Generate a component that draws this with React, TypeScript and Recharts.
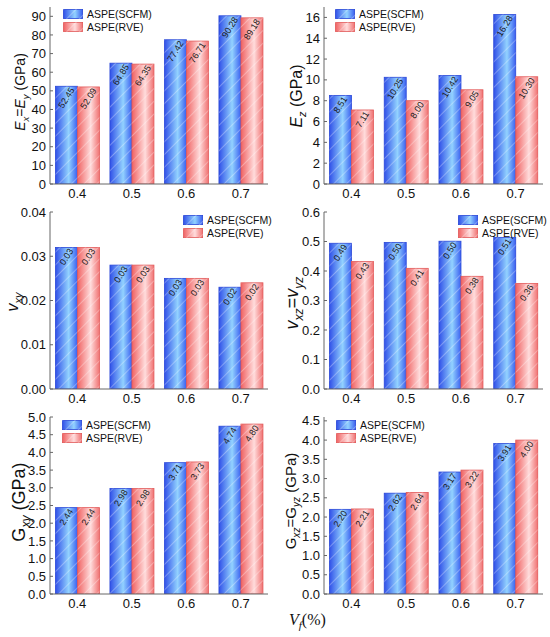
import React from 'react';
import { BarChart, Bar, XAxis, YAxis, Legend, LabelList } from 'recharts';

const categories = ['0.4', '0.5', '0.6', '0.7'];
const seriesNames = ['ASPE(SCFM)', 'ASPE(RVE)'];

const exScfm = [52.45, 64.85, 77.42, 90.28];
const exRve = [52.09, 64.35, 76.71, 89.18];
const ezScfm = [8.51, 10.25, 10.42, 16.28];
const ezRve = [7.11, 8.0, 9.05, 10.3];
const vxyScfm = [0.032, 0.028, 0.025, 0.023];
const vxyRve = [0.032, 0.028, 0.025, 0.024];
const vxzScfm = [0.494, 0.497, 0.501, 0.514];
const vxzRve = [0.432, 0.409, 0.382, 0.358];
const gxyScfm = [2.44, 2.98, 3.71, 4.74];
const gxyRve = [2.44, 2.98, 3.73, 4.8];
const gxzScfm = [2.2, 2.62, 3.17, 3.91];
const gxzRve = [2.21, 2.64, 3.22, 4.0];

const exTicks = [0, 10, 20, 30, 40, 50, 60, 70, 80, 90];
const ezTicks = [0, 2, 4, 6, 8, 10, 12, 14, 16];
const vxyTicks = [0, 0.01, 0.02, 0.03, 0.04];
const vxzTicks = [0, 0.1, 0.2, 0.3, 0.4, 0.5, 0.6];
const gxyTicks = [0, 0.5, 1, 1.5, 2, 2.5, 3, 3.5, 4, 4.5, 5];
const gxzTicks = [0, 0.5, 1, 1.5, 2, 2.5, 3, 3.5, 4, 4.5];

const FONT = '"Liberation Sans", Arial, sans-serif';
const AXIS = '#666';

type Seg = { t: string; i?: boolean; s?: boolean };

const fmt1 = (v: number) => v.toFixed(1);
const fmt2 = (v: number) => v.toFixed(2);
const fmt0 = (v: number) => String(v);

// rotated value label sitting just under the top of each bar
const barLabel = (props: any) => {
  const { x, y, width, value } = props;
  const txt = fmt2(Number(value));
  const len = txt.replace('.', '').length * 5 + 2.5;
  const cx = Number(x) + Number(width) / 2;
  const cy = Number(y) + 2 + (len * 0.85) / 2;
  return (
    <text x={cx} y={cy} transform={`rotate(-58 ${cx} ${cy})`} textAnchor="middle"
      dominantBaseline="central" fontSize={9} fontFamily={FONT} fill="#1a1a1a">
      {txt}
    </text>
  );
};

const hatchBar = (grad: string, stroke: string) => (props: any) => {
  const { x, y, width, height } = props;
  if (!height || height <= 0) return <g />;
  return (
    <g>
      <rect x={x} y={y} width={width} height={height} fill={`url(#${grad})`} stroke={stroke} strokeWidth={0.8} />
      <rect x={x} y={y} width={width} height={height} fill="url(#hatch)" />
    </g>
  );
};

const titleRenderer = (segs: Seg[], size: number, bx: number, cy: number) => () => {
  let shift = 0;
  return (
    <text x={bx} y={cy} transform={`rotate(-90 ${bx} ${cy})`} textAnchor="middle"
      fontFamily={FONT} fontSize={size} fill="#111">
      {segs.map((s, k) => {
        const want = s.s ? size * 0.28 : 0;
        const dy = want - shift;
        shift = want;
        return (
          <tspan key={k} dy={dy} fontStyle={s.i ? 'italic' : 'normal'} fontSize={s.s ? size * 0.68 : size}>
            {s.t}
          </tspan>
        );
      })}
    </text>
  );
};

const legendContent = () => (
  <div style={{ fontFamily: FONT, fontSize: 10.5, color: '#111' }}>
    {seriesNames.map((n, k) => (
      <div key={n} style={{ display: 'flex', alignItems: 'center', height: 12.5 }}>
        <svg width={20} height={10} style={{ display: 'block' }}>
          <rect x={0.4} y={0.4} width={19.2} height={9.2} fill={k === 0 ? 'url(#blueGrad)' : 'url(#redGrad)'}
            stroke={k === 0 ? '#2a48d8' : '#e25a5a'} strokeWidth={0.8} />
          <rect x={0} y={0} width={20} height={10} fill="url(#hatch)" />
        </svg>
        <span style={{ marginLeft: 4, lineHeight: '10px' }}>{n}</span>
      </div>
    ))}
  </div>
);

interface PanelProps {
  left: number;
  top: number;
  scfm: number[];
  rve: number[];
  domain: [number, number];
  ticks: number[];
  tickFmt: (v: number) => string;
  title: Seg[];
  titleSize: number;
  titleX: number;
  titleY: number;
  legendLeft: number;
  legendTop: number;
  axisW: number;
}

function Panel(p: PanelProps) {
  const data = categories.map((c, i) => ({ cat: c, scfm: p.scfm[i], rve: p.rve[i] }));
  return (
    <div style={{ position: 'absolute', left: p.left, top: p.top }}>
      <BarChart width={275} height={205} data={data} margin={{ top: 7, right: 7, bottom: 0, left: 0 }}
        barCategoryGap="10%" barGap={0}>
        <XAxis dataKey="cat" height={21} tickSize={0} tickMargin={5} axisLine={{ stroke: AXIS }}
          tick={{ fontSize: 13, fontFamily: FONT, fill: '#111' }} />
        <XAxis xAxisId="top" dataKey="cat" orientation="top" height={0} tick={false} tickLine={false}
          axisLine={{ stroke: AXIS }} />
        <YAxis width={p.axisW} domain={p.domain} ticks={p.ticks} interval={0} tickFormatter={p.tickFmt}
          tickSize={-3} tickMargin={7} tickLine={{ stroke: AXIS }} axisLine={{ stroke: AXIS }}
          allowDataOverflow tick={{ fontSize: 13, fontFamily: FONT, fill: '#111' }}
          label={{ content: titleRenderer(p.title, p.titleSize, p.titleX, p.titleY) }} />
        <YAxis yAxisId="right" orientation="right" width={0} type="number" domain={[0, 1]} tick={false}
          tickLine={false} axisLine={{ stroke: AXIS }} />
        <Legend layout="vertical" align="center" verticalAlign="middle" content={legendContent}
          wrapperStyle={{ left: p.legendLeft, top: p.legendTop, width: 'auto', height: 'auto' }} />
        <Bar dataKey="scfm" name={seriesNames[0]} isAnimationActive={false} shape={hatchBar('blueGrad', '#2a48d8')}>
          <LabelList dataKey="scfm" content={barLabel} />
        </Bar>
        <Bar dataKey="rve" name={seriesNames[1]} isAnimationActive={false} shape={hatchBar('redGrad', '#e25a5a')}>
          <LabelList dataKey="rve" content={barLabel} />
        </Bar>
      </BarChart>
    </div>
  );
}

export default function App() {
  return (
    <div style={{ position: 'absolute', left: 0, top: 0, width: 550, height: 637, background: '#fff', overflow: 'hidden' }}>
      <svg width={0} height={0} style={{ position: 'absolute' }}>
        <defs>
          <linearGradient id="blueGrad" x1="0" y1="0" x2="1" y2="0">
            <stop offset="0" stopColor="#3150e8" />
            <stop offset="0.6" stopColor="#92d2ff" />
            <stop offset="1" stopColor="#3a5ff0" />
          </linearGradient>
          <linearGradient id="redGrad" x1="0" y1="0" x2="1" y2="0">
            <stop offset="0" stopColor="#f06262" />
            <stop offset="0.6" stopColor="#ffdcdc" />
            <stop offset="1" stopColor="#f07272" />
          </linearGradient>
          <pattern id="hatch" patternUnits="userSpaceOnUse" width={9} height={9} patternTransform="rotate(45)">
            <line x1={0} y1={0} x2={0} y2={9} stroke="rgba(255,255,255,0.5)" strokeWidth={1.2} />
          </pattern>
        </defs>
      </svg>

      <Panel left={0} top={0} scfm={exScfm} rve={exRve} domain={[0, 95]} ticks={exTicks} tickFmt={fmt0}
        title={[{ t: 'E', i: true }, { t: 'x', i: true, s: true }, { t: '=' }, { t: 'E', i: true }, { t: 'y', i: true, s: true }, { t: ' (GPa)' }]}
        titleSize={14} titleX={25} titleY={92} legendLeft={63} legendTop={8} axisW={50} />
      <Panel left={275} top={0} scfm={ezScfm} rve={ezRve} domain={[0, 17]} ticks={ezTicks} tickFmt={fmt0}
        title={[{ t: 'E', i: true }, { t: 'z', i: true, s: true }, { t: ' (GPa)' }]}
        titleSize={16} titleX={27} titleY={96} legendLeft={60} legendTop={8} axisW={49} />
      <Panel left={0} top={205} scfm={vxyScfm} rve={vxyRve} domain={[0, 0.04]} ticks={vxyTicks} tickFmt={fmt2}
        title={[{ t: 'v', i: true }, { t: 'xy', i: true, s: true }]}
        titleSize={16} titleX={18} titleY={97} legendLeft={183} legendTop={9} axisW={50} />
      <Panel left={275} top={205} scfm={vxzScfm} rve={vxzRve} domain={[0, 0.6]} ticks={vxzTicks} tickFmt={fmt1}
        title={[{ t: 'v', i: true }, { t: 'xz', i: true, s: true }, { t: '=' }, { t: 'v', i: true }, { t: 'yz', i: true, s: true }]}
        titleSize={18} titleX={23} titleY={98} legendLeft={183} legendTop={9} axisW={49} />
      <Panel left={0} top={410} scfm={gxyScfm} rve={gxyRve} domain={[0, 5]} ticks={gxyTicks} tickFmt={fmt1}
        title={[{ t: 'G' }, { t: 'xy', i: true, s: true }, { t: ' (GPa)' }]}
        titleSize={18} titleX={25} titleY={92} legendLeft={62} legendTop={9} axisW={50} />
      <Panel left={275} top={410} scfm={gxzScfm} rve={gxzRve} domain={[0, 4.6]} ticks={gxzTicks} tickFmt={fmt1}
        title={[{ t: 'G' }, { t: 'xz', i: true, s: true }, { t: '=' }, { t: 'G' }, { t: 'yz', i: true, s: true }, { t: ' (GPa)' }]}
        titleSize={15} titleX={21} titleY={91} legendLeft={61} legendTop={9} axisW={49} />

      <div style={{ position: 'absolute', left: 289, top: 611, fontFamily: '"Liberation Serif", "Times New Roman", serif', fontSize: 16, color: '#111', whiteSpace: 'nowrap' }}>
        <i>V</i><sub style={{ fontSize: 11, fontStyle: 'italic' }}>f</sub>(%)
      </div>
    </div>
  );
}
